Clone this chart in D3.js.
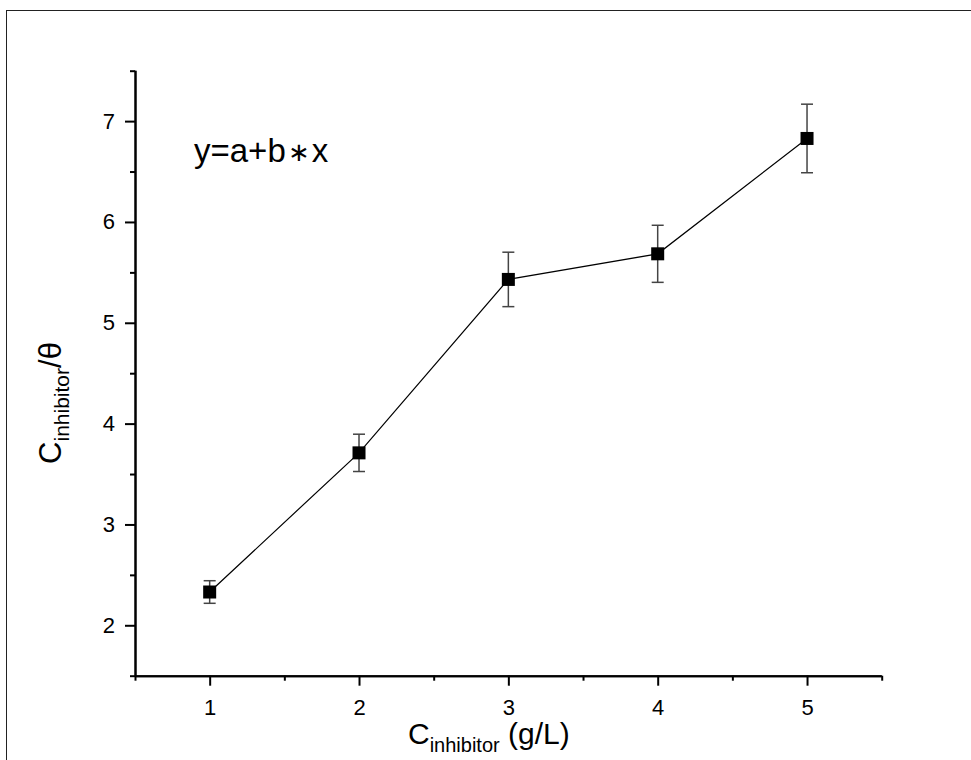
<!DOCTYPE html>
<html>
<head>
<meta charset="utf-8">
<script src="https://cdn.jsdelivr.net/npm/d3@7"></script>
<style>
  html, body { margin: 0; padding: 0; background: #fff; }
  svg { display: block; font-family: "Liberation Sans", Arial, sans-serif; }
</style>
</head>
<body>
<svg id="chart" width="971" height="760"></svg>
<script>
// ---- data ----
const concentrations = [1, 2, 3, 4, 5];
const ratioValues = [2.33, 3.71, 5.43, 5.684, 6.828];
const ratioErrors = [0.112, 0.185, 0.27, 0.283, 0.34];
const xTickValues = [1, 2, 3, 4, 5];
const yTickValues = [2, 3, 4, 5, 6, 7];
const fitLabelParts = ["y=a+b", "\u2217", "x"];

(function () {
const svg = d3.select("#chart");

// frame
svg.append("rect")
  .attr("x", 6.5).attr("y", 10.5)
  .attr("width", 1000).attr("height", 800)
  .attr("fill", "none").attr("stroke", "#222").attr("stroke-width", 1);

const pL = 135, pR = 881.7, pT = 70.7, pB = 675.7;
const x = d3.scaleLinear().domain([0.5, 5.5]).range([pL, pR]);
const y = d3.scaleLinear().domain([1.5, 7.5]).range([pB, pT]);

// minor ticks
const xMinor = d3.range(0.5, 5.51, 0.5).filter(v => Math.abs(v - Math.round(v)) > 1e-6);
const yMinor = d3.range(1.5, 7.51, 0.5).filter(v => Math.abs(v - Math.round(v)) > 1e-6);

function styleAxis(g) {
  g.attr("font-size", null).attr("font-family", null);
  g.selectAll(".tick line").attr("stroke", "#000").attr("stroke-width", 2);
  g.selectAll(".tick text").style("font-size", "22px").style("font-family", "'Liberation Sans', Arial, sans-serif").attr("fill", "#000");
}

const gx = svg.append("g").attr("transform", `translate(0,${pB})`);
gx.append("g").call(d3.axisBottom(x).tickValues(xMinor).tickSize(5).tickFormat("")).call(styleAxis);
gx.append("g").call(d3.axisBottom(x).tickValues(xTickValues).tickSize(10).tickPadding(14).tickFormat(d3.format("d"))).call(styleAxis);
gx.selectAll("path.domain").attr("stroke", "#000").attr("stroke-width", 2).attr("d", `M${pL},0.5H${pR}`);

const gy = svg.append("g").attr("transform", `translate(${pL},0)`);
gy.append("g").call(d3.axisLeft(y).tickValues(yMinor).tickSize(5).tickFormat("")).call(styleAxis);
gy.append("g").call(d3.axisLeft(y).tickValues(yTickValues).tickSize(10).tickPadding(10).tickFormat(d3.format("d"))).call(styleAxis);
gy.selectAll("path.domain").attr("stroke", "#000").attr("stroke-width", 2).attr("d", `M0.5,${pB}V${pT}`);

const pts = concentrations.map((c, i) => ({ c, v: ratioValues[i], e: ratioErrors[i] }));

// connecting line
svg.append("path")
  .datum(pts)
  .attr("fill", "none").attr("stroke", "#000").attr("stroke-width", 1.2)
  .attr("d", d3.line().x(d => x(d.c)).y(d => y(d.v)));

// error bars
const eb = svg.append("g").attr("stroke", "#444").attr("stroke-width", 1.5);
pts.forEach(d => {
  eb.append("line").attr("x1", x(d.c)).attr("x2", x(d.c)).attr("y1", y(d.v + d.e)).attr("y2", y(d.v - d.e));
  eb.append("line").attr("x1", x(d.c) - 6).attr("x2", x(d.c) + 6).attr("y1", y(d.v + d.e)).attr("y2", y(d.v + d.e));
  eb.append("line").attr("x1", x(d.c) - 6).attr("x2", x(d.c) + 6).attr("y1", y(d.v - d.e)).attr("y2", y(d.v - d.e));
});

// markers
svg.append("g").selectAll("rect").data(pts).join("rect")
  .attr("x", d => x(d.c) - 6.5).attr("y", d => y(d.v) - 6.5)
  .attr("width", 13).attr("height", 13).attr("fill", "#000");

// fit label
const fl = svg.append("text").attr("x", 194).attr("y", 162)
  .attr("font-size", 33).attr("fill", "#000");
fl.append("tspan").text(fitLabelParts[0]);
fl.append("tspan").attr("font-size", 26).attr("dx", 2).attr("dy", -1).text(fitLabelParts[1]);
fl.append("tspan").attr("dx", 2).attr("dy", 1).text(fitLabelParts[2]);

// x axis label
const xl = svg.append("text").attr("x", 408).attr("y", 744).attr("font-size", 30).attr("fill", "#000");
xl.append("tspan").text("C");
xl.append("tspan").attr("font-size", 20).attr("dy", 8).text("inhibitor");
xl.append("tspan").attr("dy", -8).text(" (g/L)");

// y axis label
const yl = svg.append("text")
  .attr("transform", "translate(61,403) rotate(-90)")
  .attr("text-anchor", "middle").attr("font-size", 31).attr("fill", "#000");
yl.append("tspan").text("C");
yl.append("tspan").attr("font-size", 21).attr("dy", 8).text("inhibitor");
yl.append("tspan").attr("dy", -8).text("/\u03b8");
})();
</script>
</body>
</html>
